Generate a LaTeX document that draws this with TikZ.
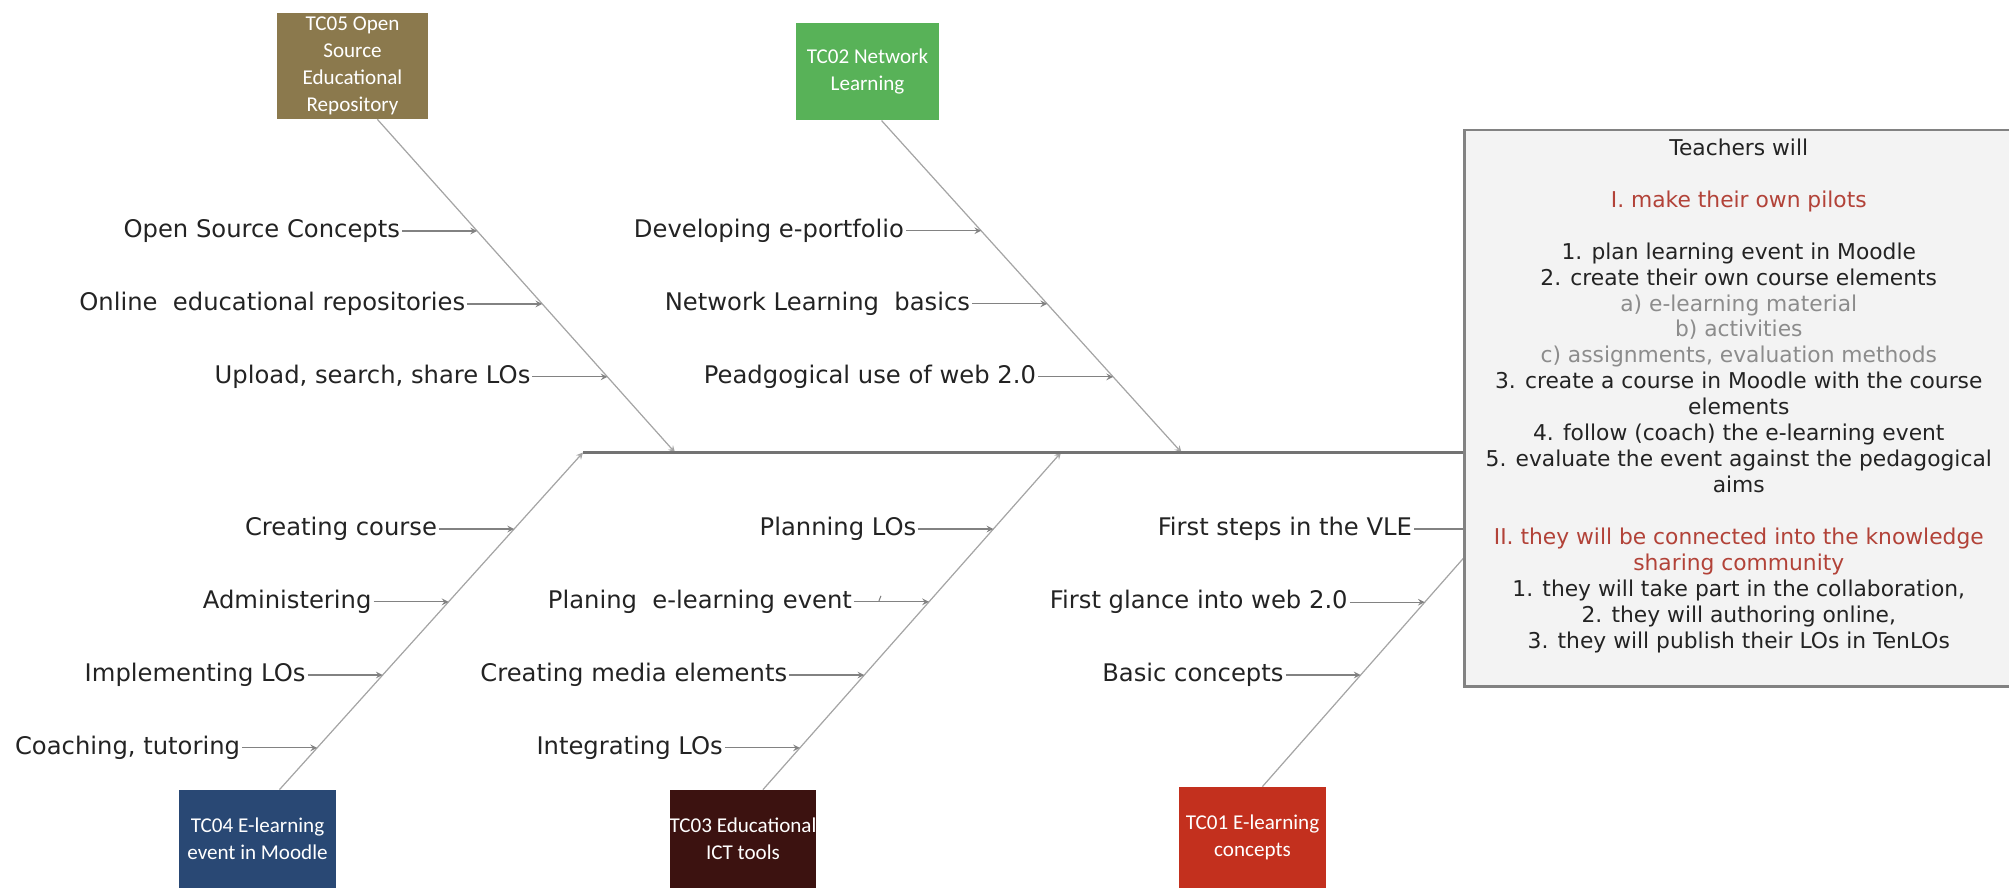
\documentclass[tikz,border=0pt]{standalone}
\usepackage{fontspec}
\setmainfont{DejaVu Sans}
\newfontfamily\boxfont{Carlito}
\usepackage{tikz}
\usetikzlibrary{calc}
\usetikzlibrary{positioning}
\usepackage{xcolor}
\definecolor{olivebrown}{RGB}{139,121,77}
\definecolor{leafgreen}{RGB}{88,178,88}
\definecolor{navyblue}{RGB}{41,72,116}
\definecolor{darkmaroon}{RGB}{60,18,16}
\definecolor{brickred}{RGB}{195,48,30}
\definecolor{goalgray}{RGB}{243,243,243}
\definecolor{goalframe}{RGB}{130,130,130}
\definecolor{pilotred}{RGB}{178,66,56}
\definecolor{subgray}{RGB}{130,130,130}
\definecolor{bonegray}{RGB}{165,165,165}
\definecolor{spinegray}{RGB}{115,115,115}
\definecolor{textdark}{RGB}{35,35,35}
\definecolor{textlight}{RGB}{140,140,140}
\tikzset{
  topic/.style={text=white, align=center, inner sep=0pt,
    font=\boxfont\fontsize{12}{15.5}\selectfont},
  cause/.style={anchor=east, inner sep=1pt, text=textdark,
    font=\fontsize{13.8}{16}\selectfont},
  subarrow/.style={draw=subgray, line width=0.7pt, -stealth},
  bone/.style={draw=bonegray, line width=0.7pt, -stealth},
  spine/.style={draw=spinegray, line width=1.2pt},
}

\begin{document}
\begin{tikzpicture}

%%%%%%%%%%%%%%%%%%%%%%%%%%%%%%%%%%%%%%%%%%%%%%%%%%%%%%%%%%%%%% Setup
\coordinate (C) at (0, 0);
% just to have the boundaries of the original picture
\useasboundingbox ($(C)+(0,0)$) rectangle ($(C)+(40.18,-17.76)$);

%%%%%%%%%%%%%%%%%%%%%%%%%%%%%%%%%%%%%%%%%%%%%%%%%%%%%%%%%%%%%% Topics
\node[topic, fill=olivebrown, minimum width=3.02cm, minimum height=2.12cm] (tc05) at ($(C)+(7.05,-1.32)$) {TC05 Open\\Source\\Educational\\Repository};
\node[topic, fill=leafgreen, minimum width=2.87cm, minimum height=1.95cm] (tc02) at ($(C)+(17.35,-1.43)$) {TC02 Network\\Learning};
\node[topic, fill=navyblue, minimum width=3.13cm, minimum height=1.96cm] (tc04) at ($(C)+(5.15,-16.78)$) {TC04 E-learning\\event in Moodle};
\node[topic, fill=darkmaroon, minimum width=2.87cm, minimum height=1.96cm] (tc03) at ($(C)+(14.86,-16.78)$) {TC03 Educational\\ICT tools};
\node[topic, fill=brickred, minimum width=2.95cm, minimum height=2.02cm] (tc01) at ($(C)+(25.05,-16.75)$) {TC01 E-learning\\concepts};

%%%%%%%%%%%%%%%%%%%%%%%%%%%%%%%%%%%%%%%%%%%%%%%%%%%%%%%%%%%%%% Bones
\coordinate (s4) at ($(C)+(11.66,-9.05)$);
\coordinate (s5) at ($(C)+(13.50,-9.05)$);
\coordinate (s3) at ($(C)+(21.22,-9.05)$);
\coordinate (s2) at ($(C)+(23.63,-9.05)$);
\coordinate (s1) at ($(C)+(31.13,-9.05)$);

\draw[bone] (tc05.-65) -- (s5);
\draw[bone] (tc02.-74) -- (s2);
\draw[bone] (tc04.66) -- (s4);
\draw[bone] (tc03.68) -- (s3);
\draw[bone] (tc01.79) -- (s1);

%%%%%%%%%%%%%%%%%%%%%%%%%%%%%%%%%%%%%%%%%%%%%%%%%%%%%%%%%%%%%% Causes
\foreach \t/\txt [count=\i] in {0.335/Open Source Concepts, 0.554/Online\ \ educational repositories, 0.773/{Upload, search, share LOs}}{
  \coordinate (p5\i) at ($(tc05.-65)!\t!(s5)$);
  \node[cause] (c5\i) at ($(p5\i)+(-1.5,0)$) {\txt};
  \draw[subarrow] (c5\i) -- (p5\i);
}
\foreach \t/\txt [count=\i] in {0.332/Developing e-portfolio, 0.552/Network Learning\ \ basics, 0.772/Peadgogical use of web 2.0}{
  \coordinate (p2\i) at ($(tc02.-74)!\t!(s2)$);
  \node[cause] (c2\i) at ($(p2\i)+(-1.5,0)$) {\txt};
  \draw[subarrow] (c2\i) -- (p2\i);
}
\foreach \t/\txt [count=\i] in {0.773/Creating course, 0.557/Administering, 0.340/Implementing LOs, 0.124/{Coaching, tutoring}}{
  \coordinate (p4\i) at ($(tc04.66)!\t!(s4)$);
  \node[cause] (c4\i) at ($(p4\i)+(-1.5,0)$) {\txt};
  \draw[subarrow] (c4\i) -- (p4\i);
}
\foreach \t/\txt [count=\i] in {0.773/Planning LOs, 0.557/Planing\ \ e-learning event, 0.340/Creating media elements, 0.124/Integrating LOs}{
  \coordinate (p3\i) at ($(tc03.68)!\t!(s3)$);
  \node[cause] (c3\i) at ($(p3\i)+(-1.5,0)$) {\txt};
  \draw[subarrow] (c3\i) -- (p3\i);
}
\draw[draw=subgray, line width=0.6pt] ($(c32.east)+(0.5,0.02)$) -- ++(0.04,0.1);
\foreach \t/\txt [count=\i] in {0.771/First steps in the VLE, 0.552/First glance into web 2.0, 0.334/Basic concepts}{
  \coordinate (p1\i) at ($(tc01.79)!\t!(s1)$);
  \node[cause] (c1\i) at ($(p1\i)+(-1.5,0)$) {\txt};
  \draw[subarrow] (c1\i) -- (p1\i);
}

%%%%%%%%%%%%%%%%%%%%%%%%%%%%%%%%%%%%%%%%%%%%%%%%%%%%%%%%%%%%%% Goal
\node[draw=goalframe, line width=1.7pt, fill=goalgray, minimum width=10.97cm, minimum height=11.13cm] (goal) at ($(C)+(34.775,-8.165)$) {};
\node[below=0.2cm of goal.north, inner sep=0pt, align=center, text=textdark, font=\fontsize{12.4}{14.76}\selectfont] (aims) {Teachers will\\[14.76pt]
\textcolor{pilotred}{I. make their own pilots}\\[14.76pt]
1. plan learning event in Moodle\\
2. create their own course elements\\
\textcolor{textlight}{a) e-learning material}\\
\textcolor{textlight}{b) activities}\\
\textcolor{textlight}{c) assignments, evaluation methods}\\
3. create a course in Moodle with the course\\
elements\\
4. follow (coach) the e-learning event\\
5. evaluate the event against the pedagogical\\
aims\\[14.76pt]
\textcolor{pilotred}{II. they will be connected into the knowledge}\\
\textcolor{pilotred}{sharing community}\\
1. they will take part in the collaboration,\\
2. they will authoring online,\\
3. they will publish their LOs in TenLOs};

\draw[spine] (s4) -- (goal.west |- s4);

\end{tikzpicture}
\end{document}
